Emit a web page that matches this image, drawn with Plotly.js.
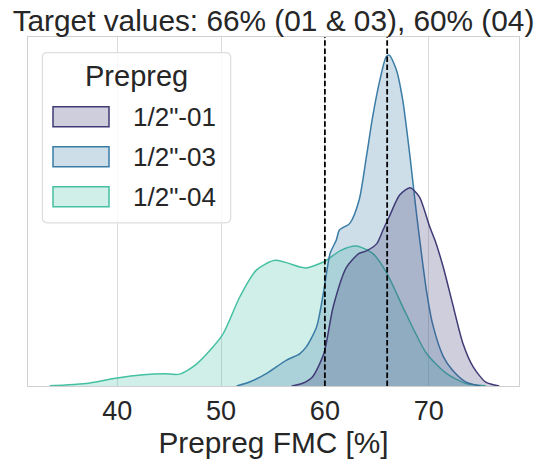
<!DOCTYPE html>
<html>
<head>
<meta charset="utf-8">
<script src="https://cdn.plot.ly/plotly-3.0.1.min.js"></script>
<style>html,body{margin:0;padding:0;background:#fff;}#chart{width:539px;height:461px;}</style>
</head>
<body>
<div id="chart"></div>
<script>
// Series names
const seriesNames = ['1/2"-01', '1/2"-03', '1/2"-04'];
// KDE curves (x = FMC %, y = density, arbitrary units)
const x01 = [56.8, 57.8, 58.8, 59.9, 60.8, 62.1, 63.3, 64.0, 65.0, 65.6, 66.2, 67.2, 68.2, 69.1, 70.1, 70.6, 71.4, 72.3, 73.3, 74.3, 75.5, 76.8];
const y01 = [0, 0.0007, 0.0026, 0.0093, 0.0227, 0.0341, 0.0380, 0.0387, 0.0408, 0.0447, 0.0485, 0.0547, 0.0568, 0.0542, 0.0456, 0.0418, 0.0341, 0.0236, 0.0122, 0.0054, 0.0011, 0];
const x03 = [51.5, 52.8, 54.4, 56.3, 57.6, 58.2, 59.2, 59.9, 60.5, 61.1, 61.4, 62.4, 63.3, 64.0, 64.6, 65.3, 65.9, 66.2, 66.9, 67.5, 68.2, 68.8, 69.3, 69.8, 70.4, 71.4, 72.3, 73.6, 75.0];
const y03 = [0, 0.0012, 0.0036, 0.0074, 0.0093, 0.0112, 0.0169, 0.0274, 0.0380, 0.0418, 0.0447, 0.0466, 0.0533, 0.0657, 0.0771, 0.0877, 0.0943, 0.0948, 0.0905, 0.0819, 0.0657, 0.0500, 0.0380, 0.0270, 0.0175, 0.0085, 0.0045, 0.0011, 0];
const x04 = [33.5, 35.0, 37.0, 40.0, 42.5, 44.5, 46.0, 47.6, 50.1, 51.8, 53.4, 55.2, 57.6, 58.2, 59.9, 61.5, 63.0, 64.6, 65.9, 67.8, 69.8, 71.7, 73.6, 75.5];
const y04 = [0.0001, 0.0003, 0.0007, 0.0023, 0.0032, 0.0035, 0.0034, 0.0062, 0.0145, 0.0255, 0.0332, 0.0360, 0.0341, 0.0338, 0.0356, 0.0388, 0.0401, 0.0380, 0.0327, 0.0208, 0.0093, 0.0036, 0.0007, 0.0001];
// Target values (dashed lines)
const targets = [60, 66];
// Tick labels
const xTicks = [40, 50, 60, 70];

const lineColors = ['#3f3b76', '#3a7ca6', '#45c0a2'];
const fillColors = ['rgba(63,59,118,0.25)', 'rgba(58,124,166,0.25)', 'rgba(69,192,162,0.25)'];
const FONT = 'Liberation Sans, Arial, sans-serif';
const TXT = '#262626';

const xs = [x01, x03, x04], ys = [y01, y03, y04];
const traces = [];
for (let i = 2; i >= 0; i--) {
  traces.push({
    type: 'scatter', mode: 'lines', x: xs[i], y: ys[i], name: seriesNames[i],
    fill: 'tozeroy', fillcolor: fillColors[i],
    line: {color: lineColors[i], width: 1.5, shape: 'spline', smoothing: 0.7},
    showlegend: false, hoverinfo: 'skip'
  });
}

// plot-area pixel geometry used for the hand-built legend
const L = 28.3, R = 519.3, T = 37, B = 385.7;
const px = v => (v - L) / (R - L);
const py = v => (B - v) / (B - T);

const shapes = [];
targets.forEach(t => shapes.push({
  type: 'line', xref: 'x', yref: 'paper', x0: t, x1: t, y0: 0, y1: 1,
  line: {color: '#000', width: 1.8, dash: '5.5px,2.6px'}, layer: 'above'
}));
// legend box (rounded)
const bx0 = px(42.7), bx1 = px(231), by0 = py(222.7), by1 = py(52.7);
const rx = 5 / (R - L), ry = 5 / (B - T);
shapes.push({
  type: 'path', xref: 'paper', yref: 'paper', layer: 'above',
  path: `M${bx0 + rx},${by0} L${bx1 - rx},${by0} Q${bx1},${by0} ${bx1},${by0 + ry} L${bx1},${by1 - ry} Q${bx1},${by1} ${bx1 - rx},${by1} L${bx0 + rx},${by1} Q${bx0},${by1} ${bx0},${by1 - ry} L${bx0},${by0 + ry} Q${bx0},${by0} ${bx0 + rx},${by0} Z`,
  fillcolor: 'rgba(255,255,255,0.8)', line: {color: '#dddddd', width: 1.2}
});
const rowsY = [116.7, 156.7, 196.7];
const annotations = [{
  xref: 'paper', yref: 'paper', x: px(136.7), y: py(76), xanchor: 'center', yanchor: 'middle',
  text: 'Prepreg', showarrow: false, font: {family: FONT, size: 29, color: TXT}
}];
for (let i = 0; i < 3; i++) {
  shapes.push({
    type: 'rect', xref: 'paper', yref: 'paper', layer: 'above',
    x0: px(53.3), x1: px(109.3), y0: py(rowsY[i] + 10), y1: py(rowsY[i] - 10),
    fillcolor: fillColors[i], line: {color: lineColors[i], width: 1.5}, opacity: 1
  });
  annotations.push({
    xref: 'paper', yref: 'paper', x: px(131), y: py(rowsY[i]), xanchor: 'left', yanchor: 'middle',
    text: seriesNames[i], showarrow: false, font: {family: FONT, size: 26, color: TXT}
  });
}

const layout = {
  width: 539, height: 461,
  margin: {l: 28, r: 20, t: 37, b: 75, pad: 0},
  paper_bgcolor: '#fff', plot_bgcolor: '#fff',
  font: {family: FONT, color: TXT},
  showlegend: false,
  title: {text: 'Target values: 66% (01 & 03), 60% (04)', font: {family: FONT, size: 29.8, color: TXT},
          x: 0.5, xref: 'paper', xanchor: 'center', y: 0.955, yref: 'container', yanchor: 'middle'},
  xaxis: {range: [31.4, 78.7], tickvals: xTicks, ticktext: xTicks.map(String),
          showgrid: true, gridcolor: '#dadada', gridwidth: 1, zeroline: false,
          showline: true, mirror: true, linecolor: '#d0d0d0', linewidth: 1.3,
          ticks: '', tickfont: {family: FONT, size: 27, color: TXT},
          title: {text: 'Prepreg FMC [%]', font: {family: FONT, size: 29.8, color: TXT}, standoff: 3}},
  yaxis: {range: [0, 0.1], showgrid: false, zeroline: false, showticklabels: false, ticks: '',
          showline: true, mirror: true, linecolor: '#d0d0d0', linewidth: 1.3},
  shapes: shapes, annotations: annotations
};
Plotly.newPlot('chart', traces, layout, {displayModeBar: false, staticPlot: true});
</script>
</body>
</html>
